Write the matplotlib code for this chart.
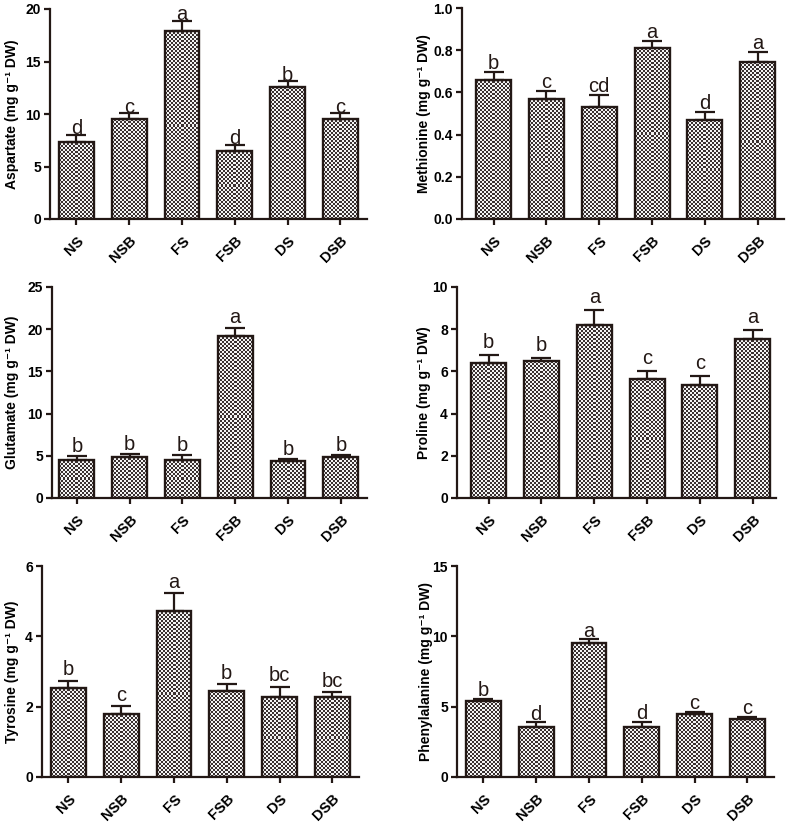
import numpy as np
import matplotlib.pyplot as plt
from matplotlib.colors import ListedColormap

# amino acid contents per treatment (mg g-1 DW)
groups = ['NS', 'NSB', 'FS', 'FSB', 'DS', 'DSB']

aspartate = [7.35, 9.5, 17.95, 6.5, 12.55, 9.55]
aspartate_err = [0.65, 0.55, 0.9, 0.55, 0.55, 0.5]
aspartate_sig = ['d', 'c', 'a', 'd', 'b', 'c']

methionine = [0.66, 0.57, 0.53, 0.81, 0.467, 0.742]
methionine_err = [0.038, 0.038, 0.06, 0.035, 0.04, 0.05]
methionine_sig = ['b', 'c', 'cd', 'a', 'd', 'a']

glutamate = [4.56, 4.87, 4.56, 19.2, 4.4, 4.87]
glutamate_err = [0.44, 0.3, 0.5, 1.0, 0.25, 0.2]
glutamate_sig = ['b', 'b', 'b', 'a', 'b', 'b']

proline = [6.42, 6.49, 8.21, 5.62, 5.37, 7.55]
proline_err = [0.35, 0.13, 0.7, 0.4, 0.43, 0.4]
proline_sig = ['b', 'b', 'a', 'c', 'c', 'a']

tyrosine = [2.54, 1.8, 4.73, 2.44, 2.28, 2.28]
tyrosine_err = [0.2, 0.21, 0.49, 0.2, 0.28, 0.13]
tyrosine_sig = ['b', 'c', 'a', 'b', 'bc', 'bc']

phenylalanine = [5.4, 3.55, 9.55, 3.55, 4.5, 4.1]
phenylalanine_err = [0.17, 0.34, 0.24, 0.38, 0.12, 0.16]
phenylalanine_sig = ['b', 'd', 'a', 'd', 'c', 'c']

dark = '#231815'
checker = ListedColormap(['#f4f4f4', '#3a3131'])

plt.rcParams['font.family'] = ['Liberation Sans', 'DejaVu Sans']

W, H = 787, 826
SPACING = 52.8  # px between bar centres
fig = plt.figure(figsize=(W / 100, H / 100), dpi=100)


def add_axes(left, top, bottom, xlim):
    width = (xlim[1] - xlim[0]) * SPACING
    ax = fig.add_axes([left / W, 1 - bottom / H, width / W, (bottom - top) / H])
    ax.set_xlim(*xlim)
    return ax


def draw_panel(ax, name, vals, errs, sig, ymax, step, fmt, letter_pad, label_x):
    x = np.arange(len(groups))
    xlim = ax.get_xlim()
    ax.set_ylim(0, ymax)

    bars = ax.bar(x, vals, width=0.66, facecolor='none', edgecolor=dark,
                  linewidth=1.7, zorder=3)
    ax.errorbar(x, vals, yerr=[np.zeros(len(vals)), errs], fmt='none',
                ecolor=dark, elinewidth=1.6, capsize=7, capthick=1.6, zorder=2)

    # checkerboard fill, 2 px cells, one small image per bar
    for rect in bars.patches:
        x0, x1 = rect.get_x(), rect.get_x() + rect.get_width()
        h = rect.get_height()
        p0 = ax.transData.transform((x0, 0))
        p1 = ax.transData.transform((x1, h))
        nx = max(1, int(round((p1[0] - p0[0]) / 2)))
        ny = max(1, int(round((p1[1] - p0[1]) / 2)))
        cells = np.indices((ny, nx)).sum(axis=0) % 2
        ax.imshow(cells, cmap=checker, extent=[x0, x1, 0, h], aspect='auto',
                  interpolation='nearest', zorder=1)
    ax.set_xlim(*xlim)
    ax.set_ylim(0, ymax)

    for xi, v, e, s in zip(x, vals, errs, sig):
        ax.annotate(s, (xi, v + e), xytext=(0, letter_pad), textcoords='offset points',
                    ha='center', va='baseline', fontsize=14.5, color=dark)

    ax.spines['top'].set_visible(False)
    ax.spines['right'].set_visible(False)
    for sp in ('left', 'bottom'):
        ax.spines[sp].set_linewidth(1.6)
        ax.spines[sp].set_color(dark)
    ax.spines['left'].set_bounds(0, ymax)

    ticks = np.arange(0, ymax + step / 2, step)
    ax.set_yticks(ticks)
    ax.set_yticklabels([fmt.format(t) for t in ticks], fontweight='bold', fontsize=10)
    ax.set_xticks(x)
    ax.set_xticklabels(groups, rotation=45, ha='right', rotation_mode='anchor',
                       fontweight='bold', fontsize=10.5)
    ax.tick_params(direction='out', length=4.5, width=1.6, color=dark, pad=2)
    ax.tick_params(axis='x', pad=6)
    ax.set_ylabel(name + ' (mg g\u207b\u00b9 DW)', fontsize=10, fontweight='bold')
    # place the label's right edge at a fixed pixel column
    bb = ax.get_position()
    ax.yaxis.set_label_coords((label_x / W - bb.x0) / bb.width, 0.5)


ax1 = add_axes(50, 9, 219, (-0.5, 5.5))
draw_panel(ax1, 'Aspartate', aspartate, aspartate_err, aspartate_sig, 20, 5, '{:.0f}', 0.5, 19)

ax2 = add_axes(462, 8, 219, (-0.6, 5.5))
draw_panel(ax2, 'Methionine', methionine, methionine_err, methionine_sig, 1.0, 0.2, '{:.1f}', 2, 431)

ax3 = add_axes(52, 287, 498, (-0.47, 5.5))
draw_panel(ax3, 'Glutamate', glutamate, glutamate_err, glutamate_sig, 25, 5, '{:.0f}', 3, 19)

ax4 = add_axes(457, 287, 498, (-0.6, 5.45))
draw_panel(ax4, 'Proline', proline, proline_err, proline_sig, 10, 2, '{:.0f}', 5, 431)

ax5 = add_axes(42, 566, 777, (-0.5, 5.5))
draw_panel(ax5, 'Tyrosine', tyrosine, tyrosine_err, tyrosine_sig, 6, 2, '{:.0f}', 4, 19)

ax6 = add_axes(457, 566, 777, (-0.5, 5.5))
draw_panel(ax6, 'Phenylalanine', phenylalanine, phenylalanine_err, phenylalanine_sig, 15, 5, '{:.0f}', 2, 433)

fig.savefig('out.png', dpi=100)
